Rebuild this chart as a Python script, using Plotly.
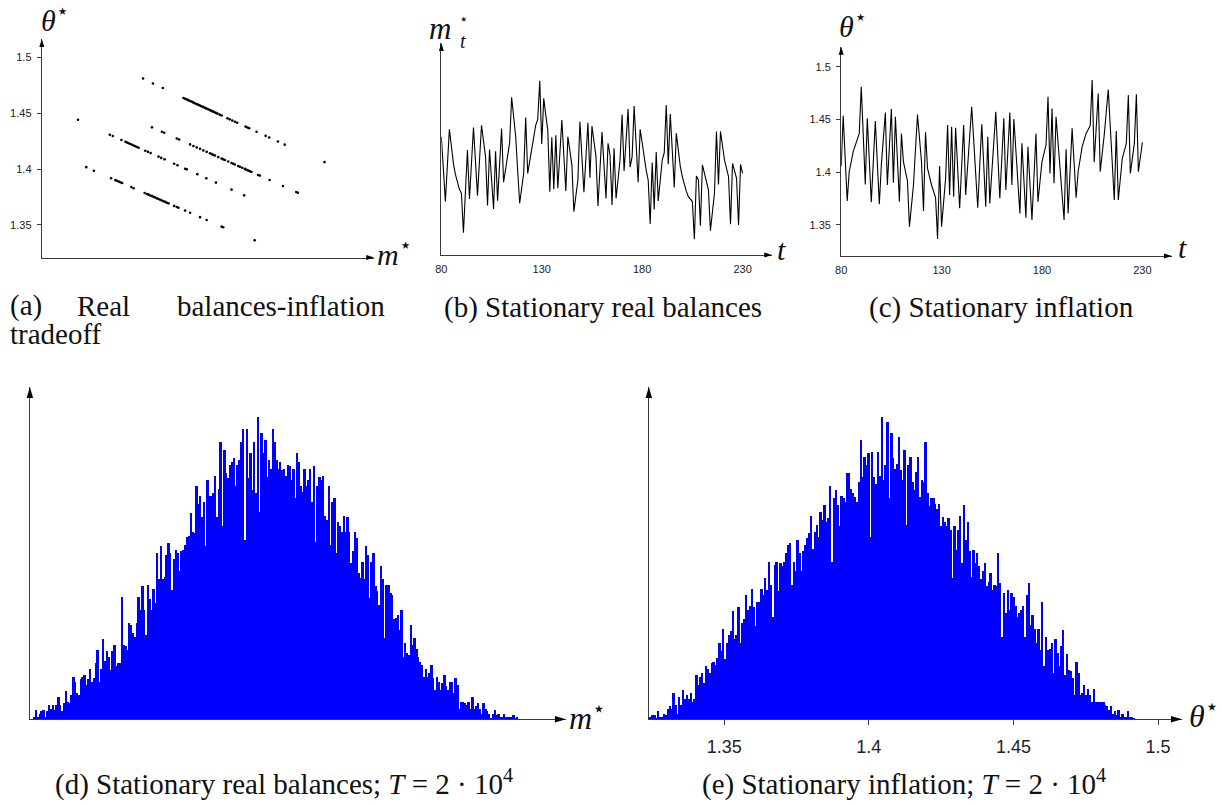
import plotly.graph_objects as go

W, H = 1222, 805

# ---------------- data ----------------
# (a) real balances - inflation tradeoff (m* arbitrary units, theta*)
a_single_m = [0.109, 0.1344, 0.158, 0.310, 0.3406, 0.371, 0.655, 0.871]
a_single_theta = [1.4442, 1.4017, 1.3984, 1.4813, 1.4768, 1.4727, 1.3360, 1.4062]
a_line1_m = [0.435, 0.440, 0.445, 0.450, 0.455, 0.460, 0.465, 0.470, 0.475, 0.480, 0.485, 0.490,
             0.495, 0.500, 0.505, 0.510, 0.515, 0.520, 0.525, 0.530, 0.535, 0.540, 0.547, 0.553,
             0.571, 0.578, 0.586, 0.594, 0.601, 0.627, 0.633, 0.638, 0.661, 0.689, 0.700, 0.727, 0.748]
a_line1_theta = [1.4638, 1.4631, 1.4625, 1.4618, 1.4611, 1.4605, 1.4598, 1.4591, 1.4584, 1.4578, 1.4571,
                 1.4564, 1.4558, 1.4551, 1.4544, 1.4538, 1.4531, 1.4524, 1.4517, 1.4511, 1.4504, 1.4497,
                 1.4488, 1.4480, 1.4456, 1.4446, 1.4436, 1.4425, 1.4416, 1.4381, 1.4373, 1.4366, 1.4335,
                 1.4298, 1.4283, 1.4247, 1.4219]
a_line2_m = [0.3375, 0.3682, 0.3754, 0.4144, 0.4215, 0.4554, 0.4656, 0.4759, 0.4862, 0.4964, 0.5067,
             0.5169, 0.5221, 0.5272, 0.5323, 0.5426, 0.5528, 0.5579, 0.5631, 0.5733, 0.5836, 0.5887,
             0.5938, 0.6041, 0.6092, 0.6164, 0.6246, 0.6297, 0.6349, 0.6400, 0.6451, 0.6656, 0.6708,
             0.7015, 0.7426, 0.7836, 0.7887]
a_line2_theta = [1.4374, 1.4334, 1.4325, 1.4274, 1.4265, 1.4221, 1.4207, 1.4194, 1.4181, 1.4167, 1.4154,
                 1.4141, 1.4134, 1.4127, 1.4121, 1.4107, 1.4094, 1.4087, 1.4081, 1.4067, 1.4054, 1.4047,
                 1.4041, 1.4027, 1.4021, 1.4011, 1.4001, 1.3994, 1.3987, 1.3981, 1.3974, 1.3947, 1.3941,
                 1.3901, 1.3847, 1.3794, 1.3787]
a_line3_m = [0.2072, 0.2164, 0.2431, 0.2554, 0.2605, 0.2656, 0.2708, 0.2759, 0.2810, 0.2862, 0.2913,
             0.2964, 0.3169, 0.3251, 0.3333, 0.3579, 0.3662, 0.3764, 0.4062, 0.4164, 0.4400, 0.4451,
             0.4779, 0.5056, 0.5354, 0.5836, 0.6226]
a_line3_theta = [1.4308, 1.4296, 1.4261, 1.4245, 1.4238, 1.4232, 1.4225, 1.4218, 1.4211, 1.4205, 1.4198,
                 1.4191, 1.4164, 1.4154, 1.4143, 1.4111, 1.4100, 1.4087, 1.4048, 1.4034, 1.4003, 1.3997,
                 1.3954, 1.3917, 1.3878, 1.3815, 1.3764]
a_line4_m = [0.2113, 0.2246, 0.2297, 0.2349, 0.2400, 0.2451, 0.2738, 0.2810, 0.3149, 0.3221, 0.3272,
             0.3323, 0.3374, 0.3426, 0.3477, 0.3528, 0.3579, 0.3631, 0.3682, 0.3733, 0.3785, 0.3836,
             0.3887, 0.4062, 0.4144, 0.4195, 0.4400, 0.4554, 0.4862, 0.5067, 0.5528, 0.5579]
a_line4_theta = [1.3917, 1.3900, 1.3894, 1.3887, 1.3881, 1.3874, 1.3838, 1.3828, 1.3785, 1.3776, 1.3770,
                 1.3763, 1.3757, 1.3750, 1.3744, 1.3737, 1.3731, 1.3724, 1.3718, 1.3711, 1.3705, 1.3698,
                 1.3692, 1.3669, 1.3659, 1.3653, 1.3627, 1.3607, 1.3568, 1.3542, 1.3483, 1.3477]

# (b) stationary real balances m_t* (arbitrary units)
b_t = [80, 82, 84, 85, 86, 87, 88, 89, 90, 91, 93, 94, 96, 98, 100, 102, 103, 104, 106, 107, 108,
       110, 111, 112, 113, 114, 115, 116, 117, 118, 119, 121, 122, 123, 124, 125, 126, 127, 128, 129,
       130, 131, 132, 133, 134, 135, 136, 137, 138, 140, 142, 143, 145, 146, 147, 148, 149, 151, 153,
       154, 155, 157, 158, 160, 162, 163, 164, 165, 166, 167, 169, 170, 171, 173, 174, 175, 176, 178,
       179, 180, 181, 182, 183, 184, 185, 186, 187, 188, 190, 191, 192, 193, 194, 196, 197, 198, 199,
       200, 201, 202, 203, 204, 205, 206, 207, 208, 209, 210, 212, 213, 214, 216, 217, 218, 219, 221,
       223, 224, 225, 227, 228, 229, 230]
b_m = [0.558, 0.252, 0.593, 0.50, 0.432, 0.38, 0.338, 0.31, 0.291, 0.105, 0.495, 0.264, 0.601, 0.280,
       0.612, 0.464, 0.233, 0.498, 0.217, 0.489, 0.256, 0.596, 0.343, 0.40, 0.46, 0.530, 0.744, 0.66,
       0.561, 0.40, 0.244, 0.385, 0.649, 0.385, 0.44, 0.487, 0.55, 0.613, 0.64, 0.822, 0.524, 0.739,
       0.66, 0.590, 0.299, 0.555, 0.310, 0.565, 0.315, 0.637, 0.302, 0.558, 0.425, 0.204, 0.28, 0.354,
       0.629, 0.296, 0.624, 0.365, 0.608, 0.464, 0.231, 0.580, 0.267, 0.527, 0.472, 0.236, 0.503,
       0.267, 0.448, 0.663, 0.396, 0.689, 0.414, 0.464, 0.703, 0.343, 0.593, 0.52, 0.448, 0.40, 0.354,
       0.146, 0.436, 0.215, 0.486, 0.255, 0.448, 0.483, 0.708, 0.428, 0.665, 0.319, 0.574, 0.49, 0.417,
       0.37, 0.330, 0.30, 0.275, 0.262, 0.252, 0.074, 0.373, 0.354, 0.138, 0.425, 0.354, 0.307, 0.115,
       0.291, 0.583, 0.333, 0.583, 0.448, 0.370, 0.145, 0.432, 0.362, 0.142, 0.428, 0.385]

# (c) stationary inflation theta_t*
c_t = [80, 81, 83, 84, 86, 88, 89, 90, 92, 93, 95, 97, 99, 100, 102, 103, 105, 106, 107, 109, 110,
       111, 113, 114, 116, 118, 120, 121, 122, 123, 125, 127, 128, 129, 130, 132, 133, 134, 135, 136,
       137, 139, 141, 142, 145, 148, 150, 152, 153, 154, 157, 159, 161, 162, 164, 165, 166, 169, 170,
       172, 173, 175, 177, 178, 180, 182, 183, 184, 185, 186, 187, 191, 192, 193, 195, 197, 198, 200,
       202, 204, 205, 206, 208, 209, 211, 213, 216, 217, 218, 220, 222, 223, 224, 226, 227, 228, 230]
c_theta = [1.4057, 1.4536, 1.3727, 1.4005, 1.4195, 1.4305, 1.4368, 1.4811, 1.3885, 1.4511, 1.3715,
           1.4485, 1.3696, 1.4068, 1.4567, 1.3879, 1.4599, 1.3901, 1.4526, 1.3721, 1.4368, 1.4100,
           1.3917, 1.3484, 1.3879, 1.4548, 1.4100, 1.3633, 1.4380, 1.4037, 1.3879, 1.3759, 1.3367,
           1.4059, 1.3484, 1.3942, 1.4447, 1.3784, 1.4432, 1.3768, 1.4422, 1.3658, 1.4447, 1.3784,
           1.4621, 1.3664, 1.4454, 1.3674, 1.4337, 1.3705, 1.4574, 1.3753, 1.4511, 1.3832, 1.4567,
           1.3879, 1.4504, 1.3610, 1.4274, 1.3569, 1.4242, 1.3547, 1.4365, 1.3721, 1.4100, 1.4258,
           1.4716, 1.3989, 1.4605, 1.3895, 1.4526, 1.3547, 1.4217, 1.3610, 1.4416, 1.3759, 1.4005,
           1.4242, 1.4368, 1.4441, 1.4874, 1.4094, 1.4747, 1.4005, 1.4353, 1.4785, 1.3737, 1.4391,
           1.3737, 1.4132, 1.4274, 1.4732, 1.3989, 1.4274, 1.4738, 1.4005, 1.4283]

# (d) histogram of m*, T = 2*10^4 (counts per bin, bins span m* in [0, 1])
d_range = [0.0, 1.0]
d_counts = [2, 7, 2, 4, 6, 7, 2, 6, 11, 8, 11, 7, 11, 17, 11, 6, 12, 21, 13, 12, 18, 32, 28, 20,
            18, 30, 32, 33, 26, 30, 38, 28, 31, 42, 52, 28, 38, 60, 44, 51, 47, 37, 51, 56, 40, 42,
            42, 92, 56, 55, 52, 72, 71, 65, 62, 72, 92, 82, 100, 82, 63, 101, 90, 82, 98, 87, 125,
            105, 130, 105, 107, 123, 132, 125, 97, 120, 127, 125, 111, 126, 127, 131, 137, 138, 155,
            141, 140, 175, 162, 168, 152, 163, 130, 180, 168, 168, 170, 183, 152, 173, 208, 145, 202,
            185, 181, 191, 193, 196, 175, 191, 195, 208, 218, 135, 218, 181, 200, 172, 208, 170, 227,
            156, 215, 200, 210, 182, 195, 188, 218, 208, 195, 188, 193, 187, 188, 183, 191, 190, 180,
            188, 166, 200, 193, 175, 171, 188, 175, 180, 188, 163, 190, 133, 175, 182, 180, 183, 153,
            150, 175, 131, 163, 166, 125, 148, 145, 141, 153, 141, 152, 141, 117, 126, 141, 136, 110,
            106, 118, 105, 130, 123, 91, 118, 125, 100, 96, 86, 115, 105, 61, 101, 101, 95, 93, 75,
            76, 78, 67, 82, 47, 57, 50, 48, 71, 56, 61, 53, 47, 43, 41, 32, 38, 32, 35, 41, 31, 22,
            32, 28, 22, 27, 33, 25, 22, 28, 28, 20, 31, 26, 8, 13, 13, 12, 11, 13, 8, 17, 8, 10, 12,
            8, 4, 12, 8, 6, 4, 1, 4, 7, 3, 4, 2, 2, 4, 2, 2, 2, 2, 3, 1, 2]

# (e) histogram of theta*, T = 2*10^4 (bins span theta* in [1.32426, 1.49202])
e_range = [1.32426, 1.49202]
e_counts = [2, 3, 3, 1, 6, 2, 2, 4, 3, 8, 10, 8, 20, 11, 4, 17, 11, 22, 15, 18, 15, 20, 13, 15,
            33, 26, 32, 35, 27, 40, 38, 35, 42, 43, 41, 46, 57, 51, 68, 45, 57, 63, 66, 81, 60, 63,
            84, 57, 72, 75, 93, 82, 85, 98, 84, 70, 88, 88, 98, 93, 106, 97, 118, 101, 77, 116, 118,
            96, 117, 115, 118, 125, 131, 132, 101, 118, 111, 135, 125, 111, 126, 131, 136, 140, 153,
            128, 141, 146, 137, 156, 150, 161, 148, 151, 175, 118, 166, 172, 161, 145, 168, 166, 163,
            185, 185, 173, 170, 167, 163, 178, 210, 182, 197, 191, 200, 137, 201, 182, 177, 201, 183,
            227, 180, 191, 223, 166, 215, 196, 188, 192, 212, 187, 180, 202, 146, 191, 197, 178, 172,
            186, 197, 167, 180, 178, 208, 170, 160, 166, 166, 162, 158, 162, 145, 152, 148, 145, 151,
            142, 106, 145, 127, 142, 153, 117, 161, 135, 148, 126, 107, 127, 117, 125, 115, 105, 111,
            117, 100, 103, 110, 97, 101, 100, 125, 102, 62, 95, 80, 97, 82, 95, 92, 85, 77, 80, 82,
            85, 62, 93, 102, 71, 78, 68, 57, 68, 52, 88, 40, 62, 52, 53, 57, 35, 60, 50, 40, 55, 67,
            33, 49, 37, 36, 31, 18, 43, 35, 18, 20, 26, 18, 23, 18, 13, 23, 13, 13, 13, 13, 13, 11,
            10, 7, 10, 4, 6, 3, 7, 2, 4, 2, 2, 6, 2, 2, 1]

theta_ticks = [1.35, 1.4, 1.45, 1.5]
theta_ticktext = ["1.35", "1.4", "1.45", "1.5"]
t_ticks = [80, 130, 180, 230]

# ---------------- helpers ----------------
def px(x):
    return x / W


def py(y):
    return 1 - y / H


def bin_centers(rng, n):
    w = (rng[1] - rng[0]) / n
    return [rng[0] + (i + 0.5) * w for i in range(n)], w


SERIF = "Liberation Serif"
SANS = "Liberation Sans"
AXC = "#3a3a3a"

fig = go.Figure()

a_m = a_single_m + a_line1_m + a_line2_m + a_line3_m + a_line4_m
a_th = a_single_theta + a_line1_theta + a_line2_theta + a_line3_theta + a_line4_theta
fig.add_trace(go.Scatter(x=a_m, y=a_th, mode="markers", xaxis="x", yaxis="y",
                         marker=dict(size=2.6, color="black", line=dict(width=0))))
fig.add_trace(go.Scatter(x=b_t, y=b_m, mode="lines", xaxis="x2", yaxis="y2",
                         line=dict(color="black", width=1.1)))
fig.add_trace(go.Scatter(x=c_t, y=c_theta, mode="lines", xaxis="x3", yaxis="y3",
                         line=dict(color="black", width=1.1)))
dx, dw = bin_centers(d_range, len(d_counts))
fig.add_trace(go.Bar(x=dx, y=d_counts, width=dw, xaxis="x4", yaxis="y4",
                     marker=dict(color="#0000ff", line=dict(width=0))))
ex, ew = bin_centers(e_range, len(e_counts))
fig.add_trace(go.Bar(x=ex, y=e_counts, width=ew, xaxis="x5", yaxis="y5",
                     marker=dict(color="#0000ff", line=dict(width=0))))


def axis(dom, rng, anchor, **kw):
    d = dict(domain=dom, range=rng, anchor=anchor, showgrid=False, zeroline=False,
             showline=True, linecolor=AXC, linewidth=1.2, ticks="", showticklabels=False,
             fixedrange=True)
    d.update(kw)
    return d


ytick_small = dict(showticklabels=True, ticks="outside", ticklen=4, tickwidth=1, tickcolor=AXC,
                   tickvals=theta_ticks, ticktext=theta_ticktext,
                   tickfont=dict(family=SANS, size=11, color="#222"), ticklabelstandoff=3)
xtick_t = dict(showticklabels=True, tickvals=t_ticks,
               tickfont=dict(family=SANS, size=11, color="#222"), ticklabelstandoff=4)

# panel geometry in pixels
A = dict(x0=36, x1=370, yb=257.5, yt=39)
B = dict(x0=437.5, x1=770, yb=255, yt=43)
C = dict(x0=839.3, x1=1171.7, yb=256, yt=46.7)
D = dict(x0=24, x1=562.6, yb=719.3, yt=387)
E = dict(x0=646, x1=1181.7, yb=719.3, yt=387)


def xdom(P):
    return [px(P["x0"]), px(P["x1"])]


def ydom(P):
    return [py(P["yb"]), py(P["yt"])]


fig.update_layout(
    width=W, height=H, margin=dict(l=0, r=0, t=0, b=0),
    paper_bgcolor="white", plot_bgcolor="rgba(0,0,0,0)", showlegend=False, bargap=0,
    xaxis=axis(xdom(A), [-0.003, 1.0246], "y"),
    yaxis=axis(ydom(A), [1.3206, 1.5167], "x", **ytick_small),
    xaxis2=axis(xdom(B), [80, 80 + (B["x1"] - B["x0"]) / 2.018], "y2", **xtick_t),
    yaxis2=axis(ydom(B), [0, 1.0], "x2"),
    xaxis3=axis(xdom(C), [80, 80 + (C["x1"] - C["x0"]) / 2.018], "y3", **xtick_t),
    yaxis3=axis(ydom(C), [1.3206, 1.519], "x3", **ytick_small),
    xaxis4=axis(xdom(D), [-0.0072, 1.0983], "y4"),
    yaxis4=axis(ydom(D), [0, 249.5], "x4"),
    xaxis5=axis(xdom(E), [1.32395, 1.50826], "y5", showticklabels=True, ticks="outside",
                ticklen=5, tickwidth=1, tickcolor=AXC, tickvals=theta_ticks,
                ticktext=theta_ticktext, tickfont=dict(family=SANS, size=18, color="#222"),
                ticklabelstandoff=6),
    yaxis5=axis(ydom(E), [0, 249.5], "x5"),
)

# arrowheads (decoration)
shapes = []


def head(xt, yt, direction, L=10, Wd=6):
    if direction == "right":
        pts = [(xt, yt), (xt - L, yt - Wd / 2), (xt - L, yt + Wd / 2)]
    else:
        pts = [(xt, yt), (xt - Wd / 2, yt + L), (xt + Wd / 2, yt + L)]
    path = "M " + " L ".join(f"{px(a):.6f},{py(b):.6f}" for a, b in pts) + " Z"
    shapes.append(dict(type="path", path=path, xref="paper", yref="paper",
                       fillcolor="black", line=dict(width=0)))


for P, L, Wd in [(A, 8, 5), (B, 8, 5), (C, 8, 5), (D, 11, 6.5), (E, 11, 6.5)]:
    head(P["x1"], P["yb"], "right", L, Wd)
    head(P["x0"], P["yt"], "up", L, Wd)
fig.update_layout(shapes=shapes)


def txt(text, x, y, size, xanchor="center", yanchor="middle", family=SERIF, color="#111"):
    fig.add_annotation(text=text, x=px(x), y=py(y), xref="paper", yref="paper",
                       xanchor=xanchor, yanchor=yanchor, showarrow=False,
                       font=dict(family=family, size=size, color=color))


# axis labels
txt("<i>θ</i><sup>⋆</sup>", 33, 18, 30, xanchor="left")
txt("<i>m</i><sup>⋆</sup>", 371, 252, 30, xanchor="left")
txt("<i>m</i>", 436, 28, 31)
txt("⋆", 460, 19, 15)
txt("<i>t</i>", 459, 41, 20)
txt("<i>t</i>", 779, 250, 30)
txt("<i>θ</i><sup>⋆</sup>", 835, 24, 30, xanchor="left")
txt("<i>t</i>", 1182, 248, 30)
txt("<i>m</i><sup>⋆</sup>", 564, 716, 32, xanchor="left")
txt("<i>θ</i><sup>⋆</sup>", 1187, 714, 32, xanchor="left")

# captions
CAP = 29
txt("(a)", 2, 306, CAP, xanchor="left")
txt("Real", 98, 306, CAP)
txt("balances-inflation", 383, 306, CAP, xanchor="right")
txt("tradeoff", 2, 334, CAP, xanchor="left")
txt("(b) Stationary real balances", 600, 307, CAP)
txt("(c) Stationary inflation", 1000, 307, CAP)
txt("(d) Stationary real balances; <i>T</i> = 2 · 10<sup>4</sup>", 279, 782, CAP)
txt("(e) Stationary inflation; <i>T</i> = 2 · 10<sup>4</sup>", 902, 782, CAP)

fig.write_html("out.html")
